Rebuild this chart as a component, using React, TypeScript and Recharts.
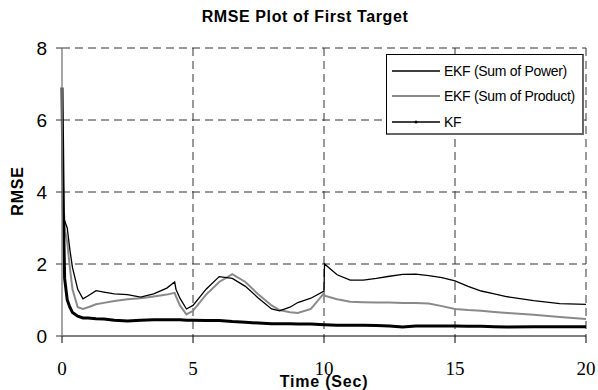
import { LineChart, Line, XAxis, YAxis, CartesianGrid } from 'recharts'

const times = [
  0, 0.05, 0.1, 0.2, 0.3, 0.4, 0.6, 0.8, 1, 1.3,
  1.6, 2, 2.5, 3, 3.5, 4, 4.3, 4.35, 4.5, 4.75,
  5, 5.5, 6, 6.5, 7, 7.5, 8, 8.3, 8.7, 9,
  9.5, 10, 10.02, 10.5, 11, 11.5, 12, 12.5, 13, 13.5,
  14, 14.5, 15, 15.5, 16, 16.5, 17, 18, 19, 20,
]

const sumOfPower = [
  5.0, 3.4, 3.2, 3.0, 2.4, 1.9, 1.3, 1.03, 1.12, 1.26,
  1.22, 1.17, 1.15, 1.08, 1.17, 1.33, 1.5, 1.3, 1.05, 0.75,
  0.85, 1.3, 1.65, 1.6, 1.38, 1.05, 0.75, 0.7, 0.8, 0.93,
  1.05, 1.25, 2.0, 1.7, 1.55, 1.55, 1.6, 1.66, 1.71, 1.72,
  1.68, 1.62, 1.53, 1.38, 1.25, 1.17, 1.09, 0.98, 0.9, 0.88,
]

const sumOfProduct = [
  5.25, 4.0, 3.0, 2.6, 1.9, 1.3, 0.8, 0.75, 0.8, 0.88,
  0.92, 0.97, 1.02, 1.05, 1.1, 1.15, 1.2, 1.1, 0.85, 0.6,
  0.7, 1.15, 1.5, 1.72, 1.5, 1.15, 0.85, 0.72, 0.66, 0.64,
  0.75, 1.19, 1.12, 1.02, 0.95, 0.94, 0.93, 0.93, 0.92, 0.92,
  0.9, 0.83, 0.75, 0.72, 0.7, 0.67, 0.64, 0.59, 0.53, 0.47,
]

const kf = [
  6.9, 3.5, 1.6, 1.0, 0.8, 0.65, 0.55, 0.5, 0.5, 0.48,
  0.47, 0.44, 0.42, 0.44, 0.45, 0.45, 0.45, 0.45, 0.45, 0.44,
  0.44, 0.43, 0.43, 0.4, 0.38, 0.36, 0.34, 0.34, 0.34, 0.33,
  0.33, 0.31, 0.31, 0.3, 0.3, 0.3, 0.29, 0.28, 0.25, 0.28,
  0.28, 0.28, 0.28, 0.27, 0.27, 0.26, 0.25, 0.26, 0.26, 0.26,
]

const xTicks = [0, 5, 10, 15, 20]
const yTicks = [0, 2, 4, 6, 8]

const data = times.map((t, i) => ({
  t,
  power: sumOfPower[i],
  product: sumOfProduct[i],
  kf: kf[i],
}))

const sans = '"Liberation Sans", Arial, sans-serif'
const serif = '"Liberation Serif", "Times New Roman", serif'

// legend drawn as a plain box so it doesn't eat into the plot height
function LegendBox() {
  const row = (label: string, stroke: string, width: number, marker?: boolean) => (
    <div style={{ display: 'flex', alignItems: 'center', height: 25.5 }}>
      <svg width={50} height={10} style={{ marginRight: 3 }}>
        <line x1={1} y1={5} x2={49} y2={5} stroke={stroke} strokeWidth={width} />
        {marker && <circle cx={25} cy={5} r={1.5} fill="#000" />}
      </svg>
      <span>{label}</span>
    </div>
  )
  return (
    <div
      style={{
        position: 'absolute',
        left: 386,
        top: 54,
        width: 198,
        height: 81,
        boxSizing: 'border-box',
        border: '1px solid #000',
        borderRight: '2px solid #666',
        borderBottom: '2px solid #666',
        background: '#fff',
        fontFamily: sans,
        fontSize: 14,
        color: '#000',
        padding: '3px 0 0 4px',
        letterSpacing: -0.3,
      }}
    >
      {row('EKF (Sum of Power)', '#000', 1.3)}
      {row('EKF (Sum of Product)', '#8a8a8a', 2)}
      {row('KF', '#000', 1.3, true)}
    </div>
  )
}

export default function App() {
  return (
    <div style={{ position: 'absolute', left: 0, top: 0, width: 598, height: 390, background: '#fff' }}>
      <div
        style={{
          position: 'absolute',
          left: 0,
          width: 610,
          top: 8,
          textAlign: 'center',
          fontFamily: sans,
          fontWeight: 'bold',
          fontSize: 16,
          letterSpacing: 0.6,
        }}
      >
        RMSE Plot of First Target
      </div>
      <LineChart
        width={598}
        height={390}
        data={data}
        margin={{ top: 48, right: 12, left: 0, bottom: 0 }}
      >
        <CartesianGrid
          stroke="#333"
          strokeDasharray="8 5"
          horizontalValues={[2, 4, 6, 8]}
          verticalValues={[5, 10, 15, 20]}
        />
        <XAxis
          dataKey="t"
          type="number"
          domain={[0, 20]}
          ticks={xTicks}
          height={54}
          tickSize={7}
          tickMargin={19}
          stroke="#000"
          tickLine={{ stroke: '#000' }}
          tick={{ fill: '#000', fontFamily: serif, fontSize: 19 }}
          label={{
            value: 'Time (Sec)',
            position: 'insideBottom',
            offset: 3,
            style: {
              fontFamily: sans,
              fontWeight: 'bold',
              fontSize: 16,
              letterSpacing: 0.8,
              fill: '#000',
            },
          }}
        />
        <YAxis
          type="number"
          domain={[0, 8]}
          ticks={yTicks}
          width={62}
          tickSize={6}
          tickMargin={9}
          axisLine={{ stroke: '#888', strokeWidth: 1.5 }}
          tickLine={{ stroke: '#333' }}
          tick={{ fill: '#000', fontFamily: sans, fontSize: 19 }}
          label={{
            content: () => (
              <text
                x={0}
                y={0}
                transform="translate(23 191) rotate(-90)"
                textAnchor="middle"
                fontFamily={sans}
                fontWeight="bold"
                fontSize={16}
                letterSpacing={0.8}
                fill="#000"
              >
                RMSE
              </text>
            ),
          }}
        />
        <Line
          dataKey="product"
          type="linear"
          stroke="#8a8a8a"
          strokeWidth={2}
          dot={false}
          isAnimationActive={false}
        />
        <Line
          dataKey="power"
          type="linear"
          stroke="#000"
          strokeWidth={1.3}
          dot={false}
          isAnimationActive={false}
        />
        <Line
          dataKey="kf"
          type="linear"
          stroke="#000"
          strokeWidth={3}
          dot={false}
          isAnimationActive={false}
        />
      </LineChart>
      <LegendBox />
    </div>
  )
}
